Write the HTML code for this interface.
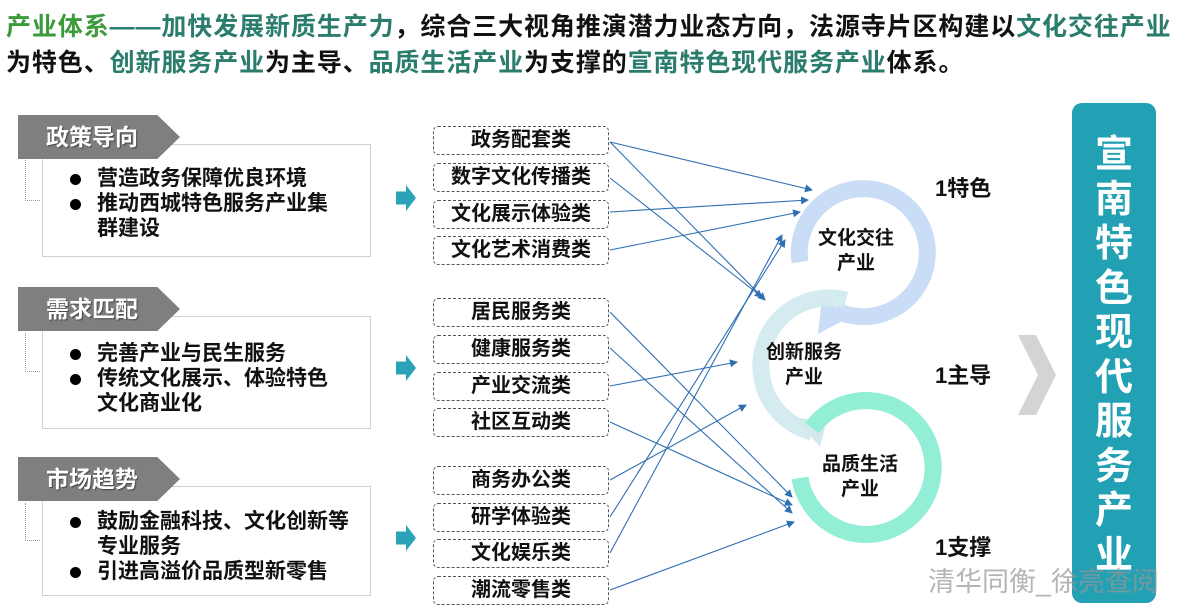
<!DOCTYPE html>
<html><head><meta charset="utf-8"><style>
body{margin:0;width:1200px;height:609px;background:#fff;position:relative;overflow:hidden;font-family:"Liberation Sans","Noto Sans CJK SC",sans-serif;}
.t{position:absolute;left:6px;font-size:25px;font-weight:bold;color:#111;white-space:nowrap;letter-spacing:0.9px}
.g{color:#3b9b3b}.c{color:#2a7d6c}
.hd{position:absolute;left:18px;width:162px;height:44px;background:#7f7f7f;clip-path:polygon(0 0,86% 0,100% 50%,86% 100%,0 100%);color:#fff;font-weight:bold;font-size:23px;line-height:44px;text-indent:28px;text-shadow:1px 1px 1px #444}
.bx{position:absolute;left:42px;width:327px;border:1px solid #d0d0d0;background:#fff}
.bl{position:absolute;left:70px;font-size:21px;font-weight:bold;color:#111;line-height:25px;white-space:nowrap}
.bl div{padding-left:27px;position:relative}
.bl div.d:before{content:"";position:absolute;left:0;top:8px;width:11px;height:11px;border-radius:50%;background:#000}
.dot{position:absolute;left:25px;width:14px;border-left:1px dotted #999;border-bottom:1px dotted #999}
.ta{position:absolute;left:396px;width:20px;height:26px;background:#2aa3b8;clip-path:polygon(0 25%,50% 25%,50% 0,100% 50%,50% 100%,50% 75%,0 75%)}
.cat{position:absolute;left:433px;width:176px;height:29px;border:1px dashed #555;border-radius:5px;box-sizing:border-box;text-align:center;font-size:20px;font-weight:bold;line-height:27px;color:#111;white-space:nowrap}
.lab{position:absolute;font-size:22px;font-weight:bold;color:#111}
</style></head><body>
<div class="t" style="top:7px"><span class="g">产业体系</span><span class="c">——加快发展新质生产力</span>，综合三大视角推演潜力业态方向，法源寺片区构建以<span class="c">文化交往产业</span></div>
<div class="t" style="top:43px">为特色、<span class="c">创新服务产业</span>为主导、<span class="c">品质生活产业</span>为支撑的<span class="c">宣南特色现代服务产业</span>体系。</div>

<div class="bx" style="top:144px;height:111px"></div>
<div class="hd" style="top:115px">政策导向</div>
<div class="dot" style="top:160px;height:40px"></div>
<div class="bl" style="top:166px"><div class="d">营造政务保障优良环境</div><div class="d">推动西城特色服务产业集</div><div>群建设</div></div>

<div class="bx" style="top:316px;height:111px"></div>
<div class="hd" style="top:287px">需求匹配</div>
<div class="dot" style="top:333px;height:38px"></div>
<div class="bl" style="top:341px"><div class="d">完善产业与民生服务</div><div class="d">传统文化展示、体验特色</div><div>文化商业化</div></div>

<div class="bx" style="top:486px;height:108px"></div>
<div class="hd" style="top:457px">市场趋势</div>
<div class="dot" style="top:503px;height:37px"></div>
<div class="bl" style="top:509px"><div class="d">鼓励金融科技、文化创新等</div><div>专业服务</div><div class="d">引进高溢价品质型新零售</div></div>

<div class="ta" style="top:185px"></div>
<div class="ta" style="top:355px"></div>
<div class="ta" style="top:525px"></div>

<div class="cat" style="top:126px">政务配套类</div>
<div class="cat" style="top:163px">数字文化传播类</div>
<div class="cat" style="top:200px">文化展示体验类</div>
<div class="cat" style="top:236px">文化艺术消费类</div>
<div class="cat" style="top:298px">居民服务类</div>
<div class="cat" style="top:335px">健康服务类</div>
<div class="cat" style="top:372px">产业交流类</div>
<div class="cat" style="top:408px">社区互动类</div>
<div class="cat" style="top:466px">商务办公类</div>
<div class="cat" style="top:503px">研学体验类</div>
<div class="cat" style="top:539px">文化娱乐类</div>
<div class="cat" style="top:576px">潮流零售类</div>

<svg width="1200" height="609" style="position:absolute;left:0;top:0">
<defs><marker id="a" markerWidth="8" markerHeight="8" refX="7" refY="4" orient="auto" markerUnits="userSpaceOnUse"><path d="M0,0 L8,4 L0,8z" fill="#2f6fb3"/></marker></defs>
<path d="M800,262 A64,64 0 1 1 835,310" fill="none" stroke="#c9ddf6" stroke-width="17"/>
<polygon points="822,296 848,318 818,334" fill="#c9ddf6"/>
<path d="M846,300 A67,67 0 1 0 812,432" fill="none" stroke="#d2eaee" stroke-width="17" opacity="0.95"/>
<polygon points="795,418 820,447 827,420" fill="#d2eaee"/>
<path d="M812,428 A67,67 0 1 1 800,478" fill="none" stroke="#93eed6" stroke-width="17"/>
<g stroke="#2f6fb3" stroke-width="1.1" fill="none" marker-end="url(#a)">
<line x1="610" y1="142" x2="812" y2="190"/>
<line x1="610" y1="142" x2="765" y2="300"/>
<line x1="610" y1="178" x2="762" y2="297"/>
<line x1="610" y1="212" x2="808" y2="200"/>
<line x1="610" y1="250" x2="800" y2="212"/>
<line x1="610" y1="312" x2="792" y2="497"/>
<line x1="610" y1="348" x2="792" y2="513"/>
<line x1="610" y1="386" x2="737" y2="362"/>
<line x1="610" y1="422" x2="792" y2="505"/>
<line x1="610" y1="480" x2="746" y2="405"/>
<line x1="610" y1="517" x2="785" y2="240"/>
<line x1="610" y1="553" x2="782" y2="235"/>
<line x1="610" y1="590" x2="794" y2="522"/>
</g>
<polygon points="1018,335 1036,335 1056,375 1036,415 1018,415 1038,375" fill="#d4d4d4"/>
</svg>

<div class="lab" style="left:818px;top:226px;font-size:19px;text-align:center;line-height:25px">文化交往<br>产业</div>
<div class="lab" style="left:766px;top:340px;font-size:19px;text-align:center;line-height:25px">创新服务<br>产业</div>
<div class="lab" style="left:822px;top:452px;font-size:19px;text-align:center;line-height:25px">品质生活<br>产业</div>
<div class="lab" style="left:935px;top:171px">1特色</div>
<div class="lab" style="left:935px;top:358px">1主导</div>
<div class="lab" style="left:935px;top:530px">1支撑</div>

<div style="position:absolute;left:1072px;top:103px;width:84px;height:500px;background:#22a0b4;border-radius:10px;color:#fff;font-weight:bold;font-size:38px;text-align:center;line-height:44.5px;padding-top:30px;box-sizing:border-box">宣<br>南<br>特<br>色<br>现<br>代<br>服<br>务<br>产<br>业</div>
<div style="position:absolute;left:928px;top:560px;font-size:27px;color:rgba(150,150,150,0.7);white-space:nowrap">清华同衡_徐亮查阅</div>
</body></html>
